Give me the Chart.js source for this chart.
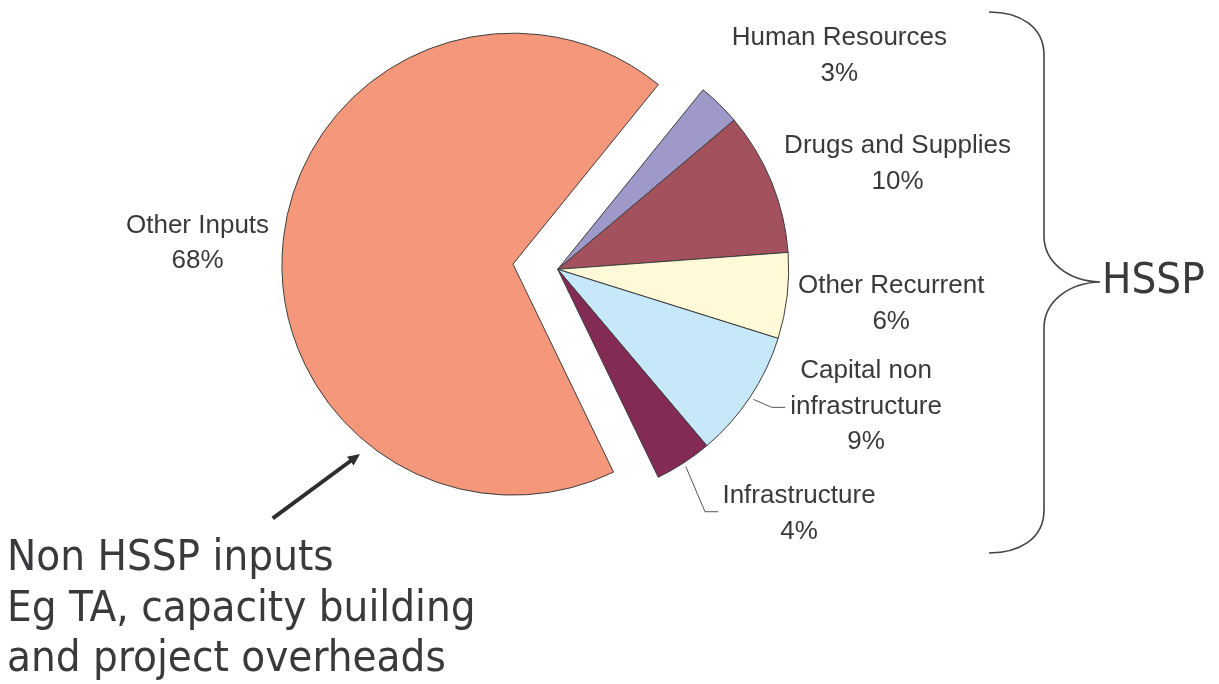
<!DOCTYPE html>
<html>
<head>
<meta charset="utf-8">
<title>HSSP share of inputs</title>
<script src="https://cdn.jsdelivr.net/npm/chart.js@4.4.1/dist/chart.umd.min.js"></script>
<style>
  html, body { margin: 0; padding: 0; background: #fff; }
  #wrap { width: 1219px; height: 684px; }
</style>
</head>
<body>
<div id="wrap"><canvas id="pie" width="1219" height="684"></canvas></div>
<script>
// slices, clockwise from the top right
const categories = ['Human Resources', 'Drugs and Supplies', 'Other Recurrent', 'Capital non infrastructure', 'Infrastructure', 'Other Inputs'];
const labelLines = [['Human Resources'], ['Drugs and Supplies'], ['Other Recurrent'], ['Capital non', 'infrastructure'], ['Infrastructure'], ['Other Inputs']];
const shares = [3, 10, 6, 9, 4, 68];
const sliceColors = ['#9e99c9', '#a3525d', '#fff9d8', '#c6e8f8', '#832b55', '#f4977a'];

const noteLines = ['Non HSSP inputs', 'Eg TA, capacity building', 'and project overheads'];
const braceLabel = 'HSSP';

// label placement relative to the point on the rim at each slice's mid angle
const labelShift = [[120, -59], [126, -29], [104, -2.5], [116, -19], [115.5, 40], [-86, -5]];
// leader lines (elbow, end) relative to the same rim point; null = none
const leaders = [null, null, null, [[21.6, 10.2], [35, 10.2]], [[21.5, 48.7], [34.8, 48.7]], null];

const EXPLODE = 45;      // the non-HSSP slice is pulled out
const INK = '#3a3a3c';

// pull the "Other Inputs" slice away from the centre
const explodePlugin = {
  id: 'explode',
  afterDatasetUpdate(chart) {
    const arc = chart.getDatasetMeta(0).data[5];
    const mid = (arc.startAngle + arc.endAngle) / 2;
    arc.x += Math.cos(mid) * EXPLODE;
    arc.y += Math.sin(mid) * EXPLODE;
  }
};

const labelPlugin = {
  id: 'sliceLabels',
  afterDatasetsDraw(chart) {
    const ctx = chart.ctx;
    const arcs = chart.getDatasetMeta(0).data;
    ctx.save();
    ctx.fillStyle = INK;
    ctx.strokeStyle = '#555';
    ctx.lineWidth = 1;
    ctx.font = '26px "Liberation Sans", Arial, sans-serif';
    ctx.textAlign = 'center';
    ctx.textBaseline = 'alphabetic';
    arcs.forEach((arc, i) => {
      const mid = (arc.startAngle + arc.endAngle) / 2;
      const ax = arc.x + Math.cos(mid) * arc.outerRadius;
      const ay = arc.y + Math.sin(mid) * arc.outerRadius;
      const lines = labelLines[i].concat([shares[i] + '%']);
      const cx = ax + labelShift[i][0];
      const by = ay + labelShift[i][1];
      lines.forEach((t, k) => ctx.fillText(t, cx, by + k * 35.5));
      if (leaders[i]) {
        ctx.beginPath();
        ctx.moveTo(ax + Math.cos(mid) * 4, ay + Math.sin(mid) * 4);
        leaders[i].forEach(p => ctx.lineTo(ax + p[0], ay + p[1]));
        ctx.stroke();
      }
    });
    ctx.restore();
  }
};

// brace, arrow and the two big notes
const notesPlugin = {
  id: 'notes',
  afterDraw(chart) {
    const ctx = chart.ctx;
    ctx.save();
    ctx.strokeStyle = '#444';
    ctx.lineWidth = 1.6;
    ctx.beginPath();
    ctx.moveTo(989, 12);
    ctx.bezierCurveTo(1019, 12, 1044, 26, 1044, 55);
    ctx.lineTo(1044, 236);
    ctx.bezierCurveTo(1044, 262, 1068, 281, 1100, 282);
    ctx.bezierCurveTo(1068, 283, 1044, 302, 1044, 328);
    ctx.lineTo(1044, 510);
    ctx.bezierCurveTo(1044, 539, 1019, 553, 989, 553);
    ctx.stroke();

    // arrow pointing at the big slice
    const x0 = 272.7, y0 = 518.3, x1 = 360, y1 = 454;
    const ang = Math.atan2(y1 - y0, x1 - x0);
    ctx.strokeStyle = '#2e2e30';
    ctx.fillStyle = '#2e2e30';
    ctx.lineWidth = 4;
    ctx.beginPath();
    ctx.moveTo(x0, y0);
    ctx.lineTo(x1 - Math.cos(ang) * 8, y1 - Math.sin(ang) * 8);
    ctx.stroke();
    ctx.beginPath();
    ctx.moveTo(x1, y1);
    ctx.lineTo(x1 - Math.cos(ang) * 12 + Math.sin(ang) * 5.5, y1 - Math.sin(ang) * 12 - Math.cos(ang) * 5.5);
    ctx.lineTo(x1 - Math.cos(ang) * 12 - Math.sin(ang) * 5.5, y1 - Math.sin(ang) * 12 + Math.cos(ang) * 5.5);
    ctx.closePath();
    ctx.fill();

    ctx.fillStyle = INK;
    ctx.font = '43.5px "DejaVu Sans Condensed", "DejaVu Sans", sans-serif';
    ctx.textAlign = 'left';
    ctx.textBaseline = 'alphabetic';
    ctx.fillText(braceLabel, 1102, 293);
    noteLines.forEach((t, k) => ctx.fillText(t, 7, 570 + k * 50.5));
    ctx.restore();
  }
};

new Chart(document.getElementById('pie'), {
  type: 'pie',
  data: {
    labels: categories,
    datasets: [{
      data: shares,
      backgroundColor: sliceColors,
      borderColor: '#3d3d3d',
      borderWidth: 1
    }]
  },
  options: {
    responsive: false,
    animation: false,
    events: [],
    rotation: 39,
    radius: 231,
    layout: { padding: { left: 0, top: 0, right: 103.6, bottom: 145.4 } },
    plugins: {
      legend: { display: false },
      tooltip: { enabled: false }
    }
  },
  plugins: [explodePlugin, labelPlugin, notesPlugin]
});
</script>
</body>
</html>
